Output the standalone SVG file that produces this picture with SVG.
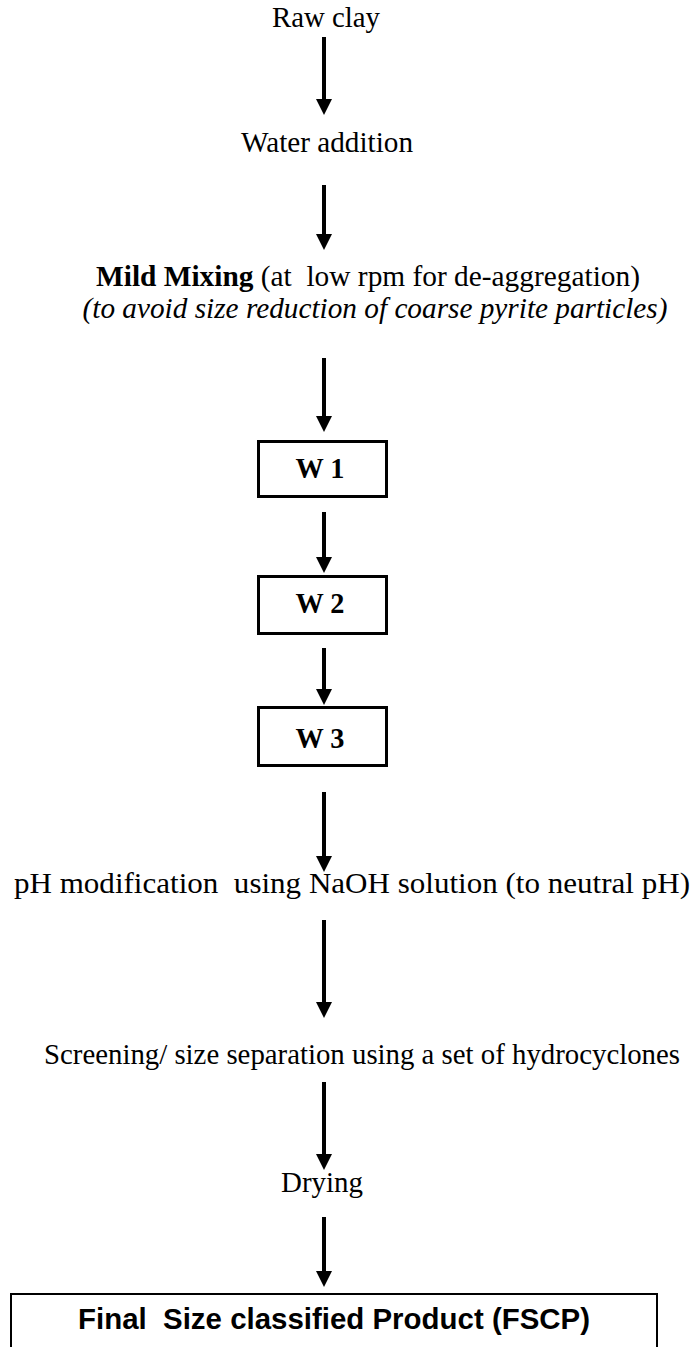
<svg xmlns="http://www.w3.org/2000/svg" width="694" height="1347" viewBox="0 0 694 1347">
<style>
  text { white-space: pre; }
  .t { font-family: "Liberation Serif", "Times New Roman", serif; font-size: 29px; fill: #000; }
  .b { font-weight: bold; }
  .i { font-style: italic; }
  .a { font-family: "Liberation Sans", Arial, sans-serif; font-size: 29px; font-weight: bold; fill: #000; }
  .box { fill: #fff; stroke: #000; stroke-width: 3; }
  .fbox { fill: #fff; stroke: #000; stroke-width: 2; }
  .arr { stroke: #000; stroke-width: 4; fill: none; marker-end: url(#ah); }
</style>
<defs>
  <marker id="ah" markerUnits="userSpaceOnUse" markerWidth="16" markerHeight="16" viewBox="0 0 16 16" refX="2" refY="8" orient="auto">
    <path d="M0,0 L16,8 L0,16 Z" fill="#000"/>
  </marker>
</defs>
<rect width="694" height="1347" fill="#fff"/>
<g id="connectors">
  <line class="arr" x1="324" y1="37" x2="324" y2="101"/>
  <line class="arr" x1="324" y1="185" x2="324" y2="236"/>
  <line class="arr" x1="324" y1="358" x2="324" y2="418"/>
  <line class="arr" x1="324" y1="512" x2="324" y2="559"/>
  <line class="arr" x1="324" y1="648" x2="324" y2="691"/>
  <line class="arr" x1="324" y1="792" x2="324" y2="858"/>
  <line class="arr" x1="324" y1="920" x2="324" y2="1004"/>
  <line class="arr" x1="324" y1="1082" x2="324" y2="1156"/>
  <line class="arr" x1="324" y1="1217" x2="324" y2="1273"/>
</g>
<g id="raw-clay"><text class="t" x="326" y="27" text-anchor="middle" textLength="108" lengthAdjust="spacingAndGlyphs">Raw clay</text></g>
<g id="water-addition"><text class="t" x="327" y="152" text-anchor="middle" textLength="172" lengthAdjust="spacingAndGlyphs">Water addition</text></g>
<g id="mild-mixing">
  <text class="t" x="368" y="286" text-anchor="middle" textLength="544" lengthAdjust="spacingAndGlyphs"><tspan class="b">Mild Mixing</tspan> (at  low rpm for de-aggregation)</text>
  <text class="t i" x="375" y="318" text-anchor="middle" textLength="585" lengthAdjust="spacingAndGlyphs">(to avoid size reduction of coarse pyrite particles)</text>
</g>
<g id="w1"><rect class="box" x="258.5" y="441.5" width="128" height="55"/><text class="t b" x="320" y="478" text-anchor="middle" textLength="49" lengthAdjust="spacingAndGlyphs">W 1</text></g>
<g id="w2"><rect class="box" x="258.5" y="576.5" width="128" height="57"/><text class="t b" x="320" y="613" text-anchor="middle" textLength="49" lengthAdjust="spacingAndGlyphs">W 2</text></g>
<g id="w3"><rect class="box" x="258.5" y="707.5" width="128" height="58"/><text class="t b" x="320" y="748" text-anchor="middle" textLength="49" lengthAdjust="spacingAndGlyphs">W 3</text></g>
<g id="ph-modification"><text class="t" x="352" y="893" text-anchor="middle" textLength="676" lengthAdjust="spacingAndGlyphs">pH modification  using NaOH solution (to neutral pH)</text></g>
<g id="screening"><text class="t" x="362" y="1064" text-anchor="middle" textLength="636" lengthAdjust="spacingAndGlyphs">Screening/ size separation using a set of hydrocyclones</text></g>
<g id="drying"><text class="t" x="322" y="1192" text-anchor="middle" textLength="82" lengthAdjust="spacingAndGlyphs">Drying</text></g>
<g id="final-product"><rect class="fbox" x="11" y="1294" width="646" height="70"/><text class="a" x="334" y="1329" text-anchor="middle" textLength="512" lengthAdjust="spacingAndGlyphs">Final  Size classified Product (FSCP)</text></g>
</svg>
